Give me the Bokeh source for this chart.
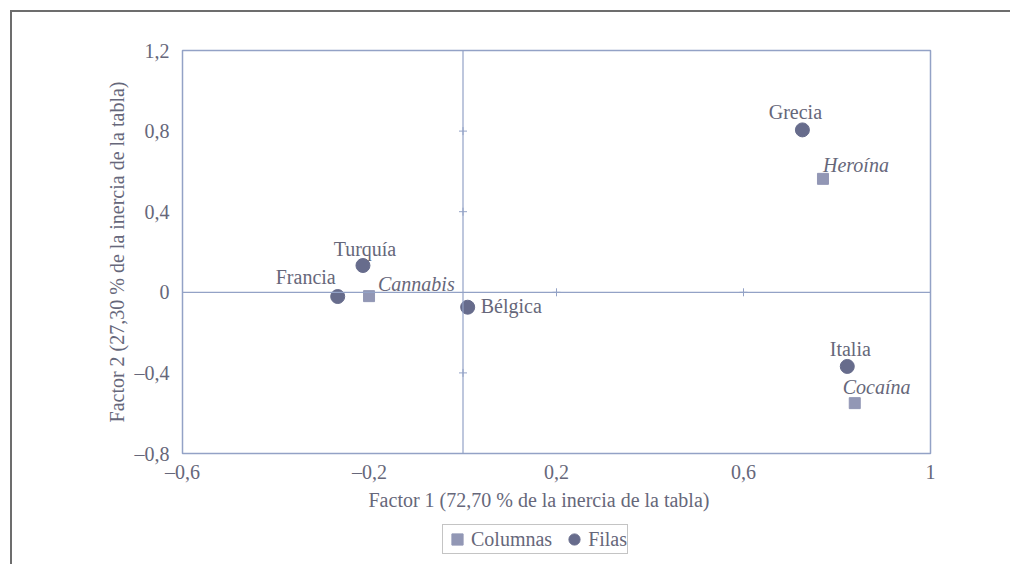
from bokeh.plotting import figure
from bokeh.layouts import column
from bokeh.models import (ColumnDataSource, FixedTicker, Span, Legend, LegendItem,
                          LabelSet, Title)
from bokeh.embed import file_html
from bokeh.resources import INLINE
from bokeh.core.properties import value

# ---- data ----
row_names = ["Grecia", "Turquía", "Francia", "Bélgica", "Italia"]
row_x = [0.726, -0.214, -0.268, 0.01, 0.822]
row_y = [0.806, 0.133, -0.021, -0.074, -0.368]

col_names = ["Heroína", "Cannabis", "Cocaína"]
col_x = [0.770, -0.201, 0.838]
col_y = [0.563, -0.019, -0.550]

x_ticks = [-0.6, -0.2, 0.2, 0.6, 1.0]
y_ticks = [-0.8, -0.4, 0.0, 0.4, 0.8, 1.2]

x_title = "Factor 1 (72,70 % de la inercia de la tabla)"
y_title = "Factor 2 (27,30 % de la inercia de la tabla)"
legend_labels = ["Columnas", "Filas"]

# ---- styles ----
FONT = "Liberation Serif"
QFONT = "'Liberation Serif', serif"
FS = "20px"
TEXT_C = "#66677a"
LINE_C = "#93a2c6"
ROW_C = "#676c8c"
COL_C = "#9297b5"

# label placement (screen-pixel offsets from each marker)
label_style = {
    "Grecia": ("center", -7, -11),
    "Turquía": ("center", 2, -10),
    "Francia": ("right", -2, -13),
    "Bélgica": ("left", 13, 6),
    "Italia": ("center", 3, -10),
    "Heroína": ("left", 0, -7),
    "Cannabis": ("left", 9, -5),
    "Cocaína": ("left", -12, -9),
}


def fmt(v):
    s = f"{abs(v):g}".replace(".", ",")
    return ("\u2013" if v < 0 else "") + s


p = figure(width=998, height=510, x_range=(x_ticks[0], x_ticks[-1]),
           y_range=(y_ticks[0], y_ticks[-1]), output_backend="svg",
           toolbar_location=None, min_border_left=170, min_border_right=80,
           min_border_top=38, min_border_bottom=69)
p.grid.visible = False
p.background_fill_color = "white"
p.border_fill_color = "white"
p.outline_line_color = LINE_C
p.outline_line_width = 1.5

for ax, ticks in ((p.xaxis[0], x_ticks), (p.yaxis[0], y_ticks)):
    ax.ticker = FixedTicker(ticks=ticks)
    ax.major_label_overrides = {t: fmt(t) for t in ticks}
    ax.axis_line_color = None
    ax.major_tick_line_color = None
    ax.minor_tick_line_color = None
    ax.major_label_text_font = FONT
    ax.major_label_text_font_size = FS
    ax.major_label_text_color = TEXT_C
    ax.axis_label_text_font = FONT
    ax.axis_label_text_font_size = FS
    ax.axis_label_text_font_style = "normal"
    ax.axis_label_text_color = TEXT_C
p.yaxis.axis_label = y_title
p.xaxis.major_label_standoff = 1
p.yaxis.major_label_standoff = 7
p.yaxis.axis_label_standoff = 4

p.add_layout(Title(text=x_title, align="left", offset=186, text_font=FONT,
                   text_font_size=FS, text_font_style="normal",
                   text_color=TEXT_C, standoff=3), "below")

# zero lines
p.add_layout(Span(location=0, dimension="height", line_color=LINE_C, line_width=1.2))
p.add_layout(Span(location=0, dimension="width", line_color=LINE_C, line_width=1.2))

# small tick marks on the zero lines
inner_x = [t for t in x_ticks if 0 < t < x_ticks[-1]]
inner_y = [t for t in y_ticks if t not in (0, y_ticks[0], y_ticks[-1])]
tx = inner_x + [0] * len(inner_y)
ty = [0] * len(inner_x) + inner_y
p.scatter(tx, ty, marker="cross", size=8, line_color=LINE_C, line_width=1)

# points
col_src = ColumnDataSource(dict(x=col_x, y=col_y, name=col_names))
row_src = ColumnDataSource(dict(x=row_x, y=row_y, name=row_names))
sq = p.scatter("x", "y", source=col_src, marker="square", size=11,
               fill_color=COL_C, line_color=COL_C)
ci = p.scatter("x", "y", source=row_src, marker="circle", size=14,
               fill_color=ROW_C, line_color=ROW_C)

# labels
all_names = row_names + col_names
lab_src = ColumnDataSource(dict(
    x=row_x + col_x, y=row_y + col_y, name=all_names,
    align=[label_style[n][0] for n in all_names],
    dx=[label_style[n][1] for n in all_names],
    dy=[-label_style[n][2] for n in all_names],
    fstyle=["normal"] * len(row_names) + ["italic"] * len(col_names),
))
p.add_layout(LabelSet(x="x", y="y", text="name", source=lab_src,
                      x_offset="dx", y_offset="dy", text_align="align",
                      text_baseline="alphabetic", text_font=value(FONT),
                      text_font_size=FS, text_font_style="fstyle",
                      text_color=TEXT_C))

# ---- legend strip (separate small figure below, frames aligned) ----
lg = figure(width=998, height=42, output_backend="svg", toolbar_location=None,
            x_axis_type=None, y_axis_type=None, min_border=0,
            x_range=(10, 11), y_range=(10, 11))
lg.grid.visible = False
lg.outline_line_color = None
lg.background_fill_color = "white"
lg.border_fill_color = "white"
sq2 = lg.scatter("x", "y", source=col_src, marker="square", size=11,
                 fill_color=COL_C, line_color=COL_C)
ci2 = lg.scatter("x", "y", source=row_src, marker="circle", size=14,
                 fill_color=ROW_C, line_color=ROW_C)
legend = Legend(items=[LegendItem(label=legend_labels[0], renderers=[sq2], index=0),
                       LegendItem(label=legend_labels[1], renderers=[ci2], index=0)],
                orientation="horizontal", location=(260, 10))
legend.label_text_font = QFONT
legend.label_text_font_size = FS
legend.label_text_color = TEXT_C
legend.border_line_color = "#8a8a8a"
legend.border_line_width = 1
legend.background_fill_color = "white"
legend.glyph_width = 28
legend.glyph_height = 28
legend.padding = 0
legend.spacing = 8
legend.label_standoff = 0
legend.margin = 0
lg.add_layout(legend, "center")

layout = column(p, lg, spacing=0)
layout.margin = (10, 0, 0, 10)
layout.styles = {"border-top": "2px solid #6d6d6d", "border-left": "2px solid #6d6d6d"}

open("out.html", "w").write(file_html(layout, INLINE))
